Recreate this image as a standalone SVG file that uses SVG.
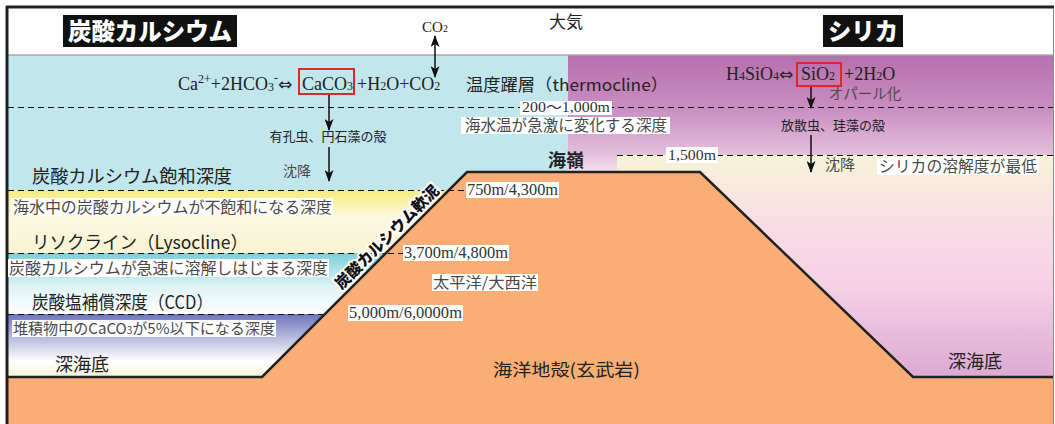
<svg xmlns="http://www.w3.org/2000/svg" width="1055" height="424" viewBox="0 0 1055 424">
  <style>
    .jp { font-family: "Noto Sans CJK JP", "Noto Sans", sans-serif; fill: #222; }
    .note { font-family: "Noto Sans CJK JP", "Noto Sans", sans-serif; fill: #4a4a4a; }
    .num { font-family: "Liberation Serif", "Noto Sans CJK JP", serif; fill: #333; }
    .eq { font-family: "Liberation Serif", "DejaVu Serif", serif; fill: #222; }
    .sym { font-family: "DejaVu Sans", sans-serif; }
    .bg { fill: #ffffff; }
    .dash { stroke: #111; stroke-width: 1; stroke-dasharray: 6 4; fill: none; }
    .arrow { stroke: #111; stroke-width: 1.5; fill: none; marker-end: url(#head); }
    .title { font-family: "Noto Sans CJK JP", sans-serif; font-weight: 900; fill: #fff; }
    .redbox { fill: none; stroke: #e0262b; stroke-width: 2; }
  </style>
  <defs>
    <marker id="head" viewBox="0 0 12 9" refX="11" refY="4.5" markerWidth="12" markerHeight="9" markerUnits="userSpaceOnUse" orient="auto-start-reverse">
      <path d="M0,0 L12,4.5 L0,9 L3,4.5 z" fill="#111"/>
    </marker>
    <linearGradient id="gYellow" x1="0" y1="0" x2="0" y2="1">
      <stop offset="0" stop-color="#f5ec7c"/>
      <stop offset="0.45" stop-color="#fcf9e2"/>
      <stop offset="1" stop-color="#f8f3d2"/>
    </linearGradient>
    <linearGradient id="gCyan" x1="0" y1="0" x2="0" y2="1">
      <stop offset="0" stop-color="#7bcfda"/>
      <stop offset="0.55" stop-color="#dff3f5"/>
      <stop offset="1" stop-color="#ffffff"/>
    </linearGradient>
    <linearGradient id="gBlue" x1="0" y1="0" x2="0" y2="1">
      <stop offset="0" stop-color="#6d74bd"/>
      <stop offset="0.4" stop-color="#bcbfe0"/>
      <stop offset="0.75" stop-color="#ffffff"/>
      <stop offset="1" stop-color="#f8f4d6"/>
    </linearGradient>
    <linearGradient id="gPurple" x1="0" y1="0" x2="0" y2="1">
      <stop offset="0" stop-color="#b66fab"/>
      <stop offset="0.45" stop-color="#c98dc3"/>
      <stop offset="0.85" stop-color="#e3bfdc"/>
      <stop offset="1" stop-color="#f5e2ee"/>
    </linearGradient>
    <linearGradient id="gPink" x1="0" y1="0" x2="0" y2="1">
      <stop offset="0" stop-color="#f7f4d6"/>
      <stop offset="0.3" stop-color="#f9dde6"/>
      <stop offset="0.6" stop-color="#f5d0e5"/>
      <stop offset="1" stop-color="#dcaad2"/>
    </linearGradient>
  </defs>

  <!-- sky band and water layers -->
  <g id="background">
    <rect x="8" y="8" width="1045" height="47" fill="#fff"/>
    <rect x="8" y="55" width="560" height="135" fill="#c1e6ec"/>
    <rect x="8" y="190" width="560" height="63" fill="url(#gYellow)"/>
    <rect x="8" y="253" width="560" height="61" fill="url(#gCyan)"/>
    <rect x="8" y="314" width="560" height="63" fill="url(#gBlue)"/>
    <rect x="568" y="55" width="485" height="117" fill="url(#gPurple)"/>
    <rect x="617" y="155" width="436" height="222" fill="url(#gPink)"/>
    <line x1="8" y1="55" x2="1053" y2="55" stroke="#aaa" stroke-width="1.5"/>
  </g>

  <!-- oceanic crust with ridge -->
  <g id="crust">
    <polygon points="8,377 262,377 467,172 700,172 913,377 1053,377 1053,424 8,424" fill="#faae76"/>
    <polyline points="8,377 262,377 467,172 700,172 913,377 1053,377" fill="none" stroke="#222" stroke-width="2.5" stroke-linejoin="miter"/>
  </g>

  <!-- frame -->
  <g id="frame">
    <line x1="6" y1="7" x2="1054" y2="7" stroke="#222" stroke-width="3"/>
    <line x1="7" y1="6" x2="7" y2="424" stroke="#222" stroke-width="3"/>
    <line x1="1053.5" y1="8" x2="1053.5" y2="424" stroke="#888" stroke-width="1"/>
  </g>

  <!-- depth lines, arrows -->
  <g id="connectors">
    <line class="dash" x1="8" y1="107.5" x2="1053" y2="107.5"/>
    <line class="dash" x1="8" y1="190.5" x2="465" y2="190.5"/>
    <line class="dash" x1="8" y1="253.5" x2="403" y2="253.5"/>
    <line class="dash" x1="8" y1="314.5" x2="323" y2="314.5"/>
    <line class="dash" x1="617" y1="155.5" x2="1053" y2="155.5"/>
    <line class="arrow" x1="435" y1="36" x2="435" y2="77" marker-start="url(#head)"/>
    <line class="arrow" x1="329" y1="94" x2="329" y2="130"/>
    <line class="arrow" x1="329" y1="147" x2="329" y2="181"/>
    <line class="arrow" x1="811" y1="86" x2="811" y2="108"/>
    <line class="arrow" x1="811" y1="135" x2="811" y2="172"/>
  </g>

  <!-- titles -->
  <g id="title-carbonate">
    <rect x="63" y="15" width="174" height="32" fill="#111"/>
    <text class="title" x="150" y="40" font-size="24" text-anchor="middle" textLength="164" lengthAdjust="spacingAndGlyphs">炭酸カルシウム</text>
  </g>
  <g id="title-silica">
    <rect x="823" y="15" width="80" height="32" fill="#111"/>
    <text class="title" x="863" y="40" font-size="24" text-anchor="middle" textLength="70" lengthAdjust="spacingAndGlyphs">シリカ</text>
  </g>
  <g id="atmosphere">
    <text class="jp" x="566" y="28" font-size="17" text-anchor="middle">大気</text>
  </g>
  <g id="co2">
    <text class="eq" x="435" y="32" font-size="15" text-anchor="middle">CO<tspan font-size="10">2</tspan></text>
  </g>

  <!-- carbonate equilibrium -->
  <g id="eq-carbonate">
    <text class="eq" x="178" y="90" font-size="18">Ca<tspan font-size="12" dy="-7">2+</tspan><tspan dy="7">+2HCO</tspan><tspan font-size="12" dy="1">3</tspan><tspan font-size="12" dy="-9">-</tspan><tspan class="sym" font-size="17" dy="8">⇔</tspan></text>
    <rect class="redbox" x="299" y="69" width="55" height="25"/>
    <text class="eq" x="302" y="90" font-size="18">CaCO<tspan font-size="12">3</tspan></text>
    <text class="eq" x="357" y="90" font-size="18">+H<tspan font-size="12">2</tspan>O+CO<tspan font-size="12">2</tspan></text>
  </g>
  <!-- silica equilibrium -->
  <g id="eq-silica">
    <text class="eq" x="726" y="80" font-size="18">H<tspan font-size="12">4</tspan>SiO<tspan font-size="12">4</tspan><tspan class="sym" font-size="17">⇔</tspan></text>
    <rect class="redbox" x="797" y="63" width="44" height="23"/>
    <text class="eq" x="801" y="80" font-size="18">SiO<tspan font-size="12">2</tspan></text>
    <text class="eq" x="844" y="80" font-size="18">+2H<tspan font-size="12">2</tspan>O</text>
    <text class="note" x="865" y="99" font-size="14.5" text-anchor="middle">オパール化</text>
  </g>

  <!-- thermocline -->
  <g id="thermocline">
    <text class="jp" x="466" y="91" font-size="16.5" textLength="202" lengthAdjust="spacingAndGlyphs">温度躍層（thermocline）</text>
    <rect class="bg" x="520" y="101" width="92" height="14"/>
    <text class="num" x="522" y="112" font-size="14" textLength="88" lengthAdjust="spacingAndGlyphs">200〜1,000m</text>
    <rect class="bg" x="461" y="117" width="209" height="17"/>
    <text class="note" x="465" y="131" font-size="16" textLength="202" lengthAdjust="spacingAndGlyphs">海水温が急激に変化する深度</text>
  </g>

  <!-- sinking shells -->
  <g id="shells-carbonate">
    <text class="jp" x="328" y="141" font-size="13" text-anchor="middle">有孔虫、円石藻の殻</text>
    <text class="note" x="297" y="176" font-size="14" text-anchor="middle">沈降</text>
  </g>
  <g id="shells-silica">
    <text class="jp" x="833" y="130" font-size="13" text-anchor="middle">放散虫、珪藻の殻</text>
    <text class="note" x="840" y="170" font-size="15" text-anchor="middle">沈降</text>
  </g>

  <!-- carbonate depth horizons -->
  <g id="saturation">
    <text class="jp" x="32" y="183" font-size="18" textLength="200" lengthAdjust="spacingAndGlyphs">炭酸カルシウム飽和深度</text>
    <rect class="bg" x="11" y="198" width="322" height="18"/>
    <text class="note" x="13" y="213" font-size="16" textLength="319" lengthAdjust="spacingAndGlyphs">海水中の炭酸カルシウムが不飽和になる深度</text>
  </g>
  <g id="lysocline">
    <text class="jp" x="32" y="249" font-size="18" textLength="216" lengthAdjust="spacingAndGlyphs">リソクライン（Lysocline）</text>
    <rect class="bg" x="8" y="259" width="321" height="18"/>
    <text class="note" x="9" y="274" font-size="16" textLength="319" lengthAdjust="spacingAndGlyphs">炭酸カルシウムが急速に溶解しはじまる深度</text>
  </g>
  <g id="ccd">
    <text class="jp" x="32" y="309" font-size="18" textLength="181" lengthAdjust="spacingAndGlyphs">炭酸塩補償深度（CCD）</text>
    <rect class="bg" x="12" y="320" width="264" height="17"/>
    <text class="note" x="13" y="334" font-size="15" textLength="262" lengthAdjust="spacingAndGlyphs">堆積物中のCaCO<tspan font-size="10">3</tspan>が5%以下になる深度</text>
  </g>
  <g id="seafloor-left">
    <text class="jp" x="55" y="371" font-size="18">深海底</text>
  </g>

  <!-- calcareous ooze on the ridge flank -->
  <g id="ooze">
    <text x="386" y="236" transform="rotate(-45 386 236)" font-family="Noto Sans CJK JP, sans-serif" font-weight="900" font-size="15.5" fill="#111" stroke="#fff" stroke-width="4" paint-order="stroke" stroke-linejoin="round" text-anchor="middle" dominant-baseline="central">炭酸カルシウム軟泥</text>
  </g>

  <!-- ridge -->
  <g id="ridge">
    <text class="jp" x="566" y="167" font-size="18" font-weight="bold" text-anchor="middle">海嶺</text>
    <rect class="bg" x="466" y="182" width="93" height="16"/>
    <text class="num" x="467" y="195" font-size="16" textLength="91" lengthAdjust="spacingAndGlyphs">750m/4,300m</text>
    <rect class="bg" x="403" y="245" width="106" height="16"/>
    <text class="num" x="404" y="258" font-size="16" textLength="104" lengthAdjust="spacingAndGlyphs">3,700m/4,800m</text>
    <rect class="bg" x="432" y="274" width="106" height="17"/>
    <text class="note" x="433" y="288" font-size="15" textLength="104" lengthAdjust="spacingAndGlyphs">太平洋/大西洋</text>
    <rect class="bg" x="348" y="305" width="115" height="16"/>
    <text class="num" x="349" y="318" font-size="16" textLength="113" lengthAdjust="spacingAndGlyphs">5,000m/6,0000m</text>
  </g>

  <!-- silica dissolution -->
  <g id="silica-depth">
    <rect class="bg" x="666" y="147" width="52" height="16"/>
    <text class="num" x="668" y="160" font-size="15" textLength="48" lengthAdjust="spacingAndGlyphs">1,500m</text>
    <rect class="bg" x="877" y="157" width="162" height="18"/>
    <text class="note" x="879" y="172" font-size="16" textLength="158" lengthAdjust="spacingAndGlyphs">シリカの溶解度が最低</text>
  </g>
  <g id="seafloor-right">
    <text class="jp" x="948" y="368" font-size="18">深海底</text>
  </g>
  <g id="oceanic-crust">
    <text class="jp" x="493" y="376" font-size="17" textLength="147" lengthAdjust="spacingAndGlyphs">海洋地殻(玄武岩)</text>
  </g>
</svg>
